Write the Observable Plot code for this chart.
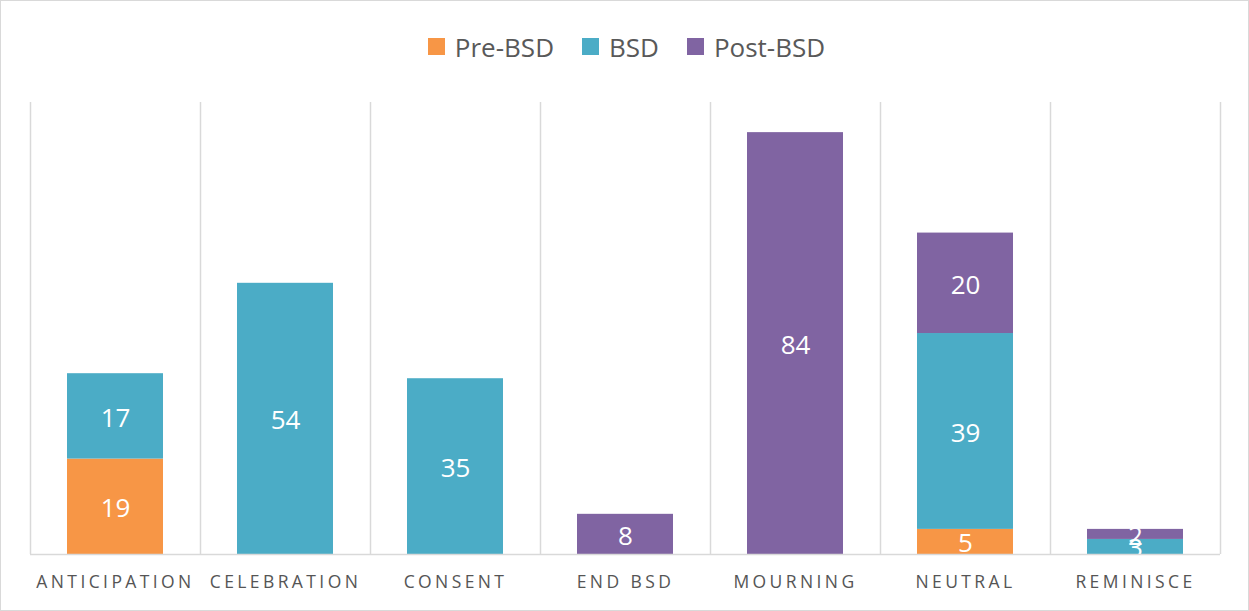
<!DOCTYPE html>
<html>
<head>
<meta charset="utf-8">
<script src="https://cdn.jsdelivr.net/npm/d3@7"></script>
<script src="https://cdn.jsdelivr.net/npm/@observablehq/plot@0.6"></script>
<style>
  html, body { margin: 0; padding: 0; background: #fff; }
  #frame { box-sizing: border-box; width: 1249px; height: 611px; border: 1px solid #d9d9d9; background: #fff; font-family: "Open Sans", sans-serif; }
  #legend { height: 89px; display: flex; justify-content: center; align-items: center; gap: 28px; color: #595959; font-size: 26px; padding-left: 4px; padding-top: 2px; box-sizing: border-box; }
  #legend .item { display: flex; align-items: center; gap: 10px; }
  #legend .sw { width: 17px; height: 17px; display: inline-block; }
  #chart svg { display: block; }
</style>
</head>
<body>
<div id="frame">
  <div id="legend"></div>
  <div id="chart"></div>
</div>
<script>
const categories = ["Anticipation", "Celebration", "Consent", "End BSD", "Mourning", "Neutral", "Reminisce"];
const seriesNames = ["Pre-BSD", "BSD", "Post-BSD"];
const preBSD  = [19, 0, 0, 0, 0, 5, 0];
const bsd     = [17, 54, 35, 0, 0, 39, 3];
const postBSD = [0, 0, 0, 8, 84, 20, 2];
const colors = ["#F79646", "#4BACC6", "#8064A2"];
const yDomain = [0, 90];

const seriesValues = [preBSD, bsd, postBSD];
const data = [];
seriesNames.forEach((s, si) => {
  categories.forEach((c, ci) => {
    data.push({category: c, series: s, value: seriesValues[si][ci]});
  });
});
const nonZero = data.filter(d => d.value > 0);

// legend
const legend = document.getElementById("legend");
seriesNames.forEach((s, i) => {
  const item = document.createElement("div");
  item.className = "item";
  const sw = document.createElement("span");
  sw.className = "sw";
  sw.style.background = colors[i];
  const label = document.createElement("span");
  label.textContent = s;
  item.appendChild(sw);
  item.appendChild(label);
  legend.appendChild(item);
});

const width = 1247, height = 520;
const marginLeft = 29, marginRight = 28, marginTop = 12, marginBottom = 56;
const step = (width - marginLeft - marginRight) / categories.length;

const plot = Plot.plot({
  width, height, marginLeft, marginRight, marginTop, marginBottom,
  style: {fontFamily: "Open Sans, sans-serif", background: "#fff"},
  x: {domain: categories, paddingInner: 0.435, paddingOuter: 0.2175, label: null},
  y: {domain: yDomain, axis: null},
  color: {domain: seriesNames, range: colors},
  marks: [
    Plot.ruleX(categories, {x: d => d, dx: -step / 2, stroke: "#d9d9d9", strokeWidth: 1.5}),
    Plot.ruleX([categories[categories.length - 1]], {x: d => d, dx: step / 2, stroke: "#d9d9d9", strokeWidth: 1.5}),
    Plot.barY(nonZero, Plot.stackY({x: "category", y: "value", z: "series", fill: "series", order: seriesNames})),
    Plot.text(nonZero, Plot.stackY({x: "category", y: "value", z: "series", text: d => String(d.value), order: seriesNames, fill: "white", fontSize: 26, dy: 2})),
    Plot.ruleY([0], {stroke: "#d9d9d9", strokeWidth: 1.5}),
    Plot.axisX({tickSize: 0, tickPadding: 21, tickFormat: d => d.toUpperCase(), fontSize: 17.5, fill: "#555555", label: null})
  ]
});
plot.querySelectorAll("g[aria-label='x-axis tick label'] text").forEach(t => t.setAttribute("letter-spacing", "3.4"));
document.getElementById("chart").appendChild(plot);
</script>
</body>
</html>
